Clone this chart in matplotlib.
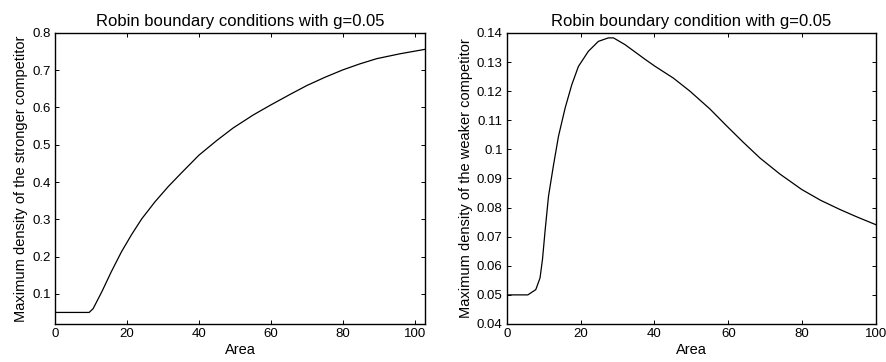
import numpy as np
import matplotlib.pyplot as plt

plt.rcParams['font.family'] = ['Liberation Sans', 'DejaVu Sans']

# stronger competitor: maximum density against area
area_strong = [0, 3, 6, 9.5, 10.6, 13.0, 15.7, 18.5, 21.3, 24.1, 27.8, 31.5,
               35.2, 40, 44.9, 49.5, 55.1, 60, 65.3, 70, 75, 80,
               84.7, 89.4, 95.8, 102.8]
dens_strong = [0.05, 0.05, 0.05, 0.05, 0.06, 0.105, 0.160, 0.213, 0.259,
               0.301, 0.347, 0.388, 0.425, 0.472, 0.511, 0.545, 0.580, 0.607,
               0.635, 0.659, 0.681, 0.701, 0.717, 0.731, 0.744, 0.756]

# weaker competitor: maximum density against area
area_weak = [0, 3, 5.7, 7.85, 9.0, 9.66, 10.4, 11.3, 12.6, 14.0, 15.8, 17.6,
             19.4, 22.1, 24.8, 27.5, 28.9, 32.0, 37.5, 40.2, 45.1, 49.6, 55,
             59.6, 64, 68.6, 74, 79.9, 85, 90.3, 95, 100]
dens_weak = [0.05, 0.05, 0.05, 0.0518, 0.0558, 0.0621, 0.0724, 0.0839, 0.0942,
             0.1045, 0.1142, 0.1222, 0.1285, 0.1337, 0.1371, 0.1383, 0.1383,
             0.136, 0.1309, 0.1285, 0.1245, 0.12, 0.1139, 0.108, 0.1025,
             0.097, 0.0915, 0.0862, 0.0825, 0.0793, 0.0767, 0.0741]

fig = plt.figure(figsize=(8.86, 3.62), dpi=100)
ax1 = fig.add_axes([0.062, 0.105, 0.4177, 0.804])
ax2 = fig.add_axes([0.572, 0.105, 0.4167, 0.804])

ax1.plot(area_strong, dens_strong, color='black', lw=0.9)
ax1.set_xlim(0, 102.8)
ax1.set_ylim(0.019, 0.8)
ax1.set_xticks([0, 20, 40, 60, 80, 100])
ax1.set_yticks([0.1, 0.2, 0.3, 0.4, 0.5, 0.6, 0.7, 0.8])
ax1.set_yticklabels(['0.1', '0.2', '0.3', '0.4', '0.5', '0.6', '0.7', '0.8'])
ax1.set_xlabel('Area', labelpad=2)
ax1.set_ylabel('Maximum density of the stronger competitor', labelpad=3)
ax1.set_title('Robin boundary conditions with g=0.05', fontsize=12, pad=5)

ax2.plot(area_weak, dens_weak, color='black', lw=0.9)
ax2.set_xlim(0, 100)
ax2.set_ylim(0.04, 0.14)
ax2.set_xticks([0, 20, 40, 60, 80, 100])
ax2.set_yticks(np.arange(0.04, 0.141, 0.01))
ax2.set_yticklabels(['0.04', '0.05', '0.06', '0.07', '0.08', '0.09', '0.1',
                     '0.11', '0.12', '0.13', '0.14'])
ax2.set_xlabel('Area', labelpad=2)
ax2.set_ylabel('Maximum density of the weaker competitor', labelpad=3)
ax2.set_title('Robin boundary condition with g=0.05', fontsize=12, pad=5)

for ax in (ax1, ax2):
    ax.tick_params(direction='in', top=True, right=True, labelsize=9.5,
                   length=3, width=0.7, pad=3)
    ax.xaxis.label.set_size(10.5)
    ax.yaxis.label.set_size(10.5)
    for s in ax.spines.values():
        s.set_linewidth(1.0)

fig.savefig('out.png', dpi=100)
